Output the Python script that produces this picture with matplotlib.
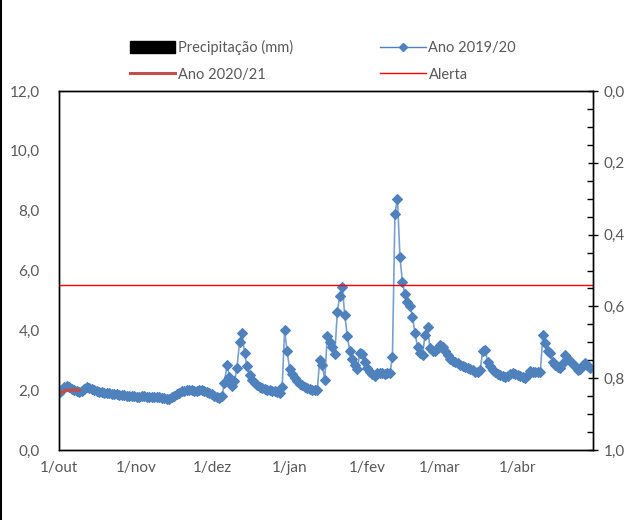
import matplotlib
matplotlib.use("Agg")
import matplotlib.pyplot as plt
import matplotlib.dates as mdates
from matplotlib.ticker import FuncFormatter, MultipleLocator
from matplotlib.lines import Line2D
from matplotlib.patches import Patch
import pandas as pd
import numpy as np

plt.rcParams['font.family'] = ['Lato', 'DejaVu Sans']

# Daily level, Ano 2019/20 (starting 1 Oct 2019)
ano_2019_20 = [
    1.90, 2.00, 2.10, 2.15, 2.10, 2.05, 2.00, 1.98, 1.95, 1.98,
    2.05, 2.10, 2.08, 2.05, 2.00, 1.98, 1.95, 1.93, 1.92, 1.90,
    1.90, 1.88, 1.87, 1.86, 1.85, 1.84, 1.83, 1.82, 1.80, 1.80,
    1.79, 1.78, 1.78, 1.80, 1.79, 1.78, 1.77, 1.78, 1.76, 1.78,
    1.76, 1.74, 1.73, 1.72, 1.72, 1.78, 1.82, 1.88, 1.92, 1.96,
    1.98, 2.00, 2.02, 2.00, 1.97, 1.98, 2.02, 2.00, 1.97, 1.94,
    1.90, 1.86, 1.82, 1.78, 1.74, 1.80, 2.25, 2.85, 2.45, 2.15,
    2.30, 2.75, 3.60, 3.90, 3.25, 2.80, 2.50, 2.35, 2.25, 2.18,
    2.12, 2.08, 2.05, 2.02, 2.00, 1.98, 1.96, 1.94, 1.90, 2.10,
    4.00, 3.30, 2.70, 2.55, 2.40, 2.30, 2.22, 2.17, 2.12, 2.08,
    2.05, 2.02, 2.00, 2.00, 3.00, 2.85, 2.35, 3.80, 3.60, 3.45,
    3.20, 4.60, 5.15, 5.45, 4.50, 3.80, 3.30, 3.05, 2.85, 2.70,
    3.25, 3.20, 2.95, 2.75, 2.62, 2.55, 2.48, 2.58, 2.58, 2.56,
    2.55, 2.56, 2.58, 3.10, 7.90, 8.40, 6.45, 5.60, 5.20, 4.95,
    4.80, 4.45, 3.90, 3.45, 3.25, 3.18, 3.84, 4.10, 3.40, 3.30,
    3.30, 3.40, 3.50, 3.45, 3.30, 3.18, 3.05, 2.98, 2.94, 2.90,
    2.85, 2.82, 2.78, 2.74, 2.70, 2.66, 2.60, 2.62, 2.67, 3.30,
    3.34, 2.95, 2.80, 2.68, 2.60, 2.55, 2.50, 2.46, 2.44, 2.48,
    2.54, 2.58, 2.55, 2.50, 2.46, 2.43, 2.40, 2.50, 2.64, 2.62,
    2.60, 2.60, 2.62, 3.84, 3.57, 3.30, 3.24, 2.95, 2.85, 2.78,
    2.74, 2.90, 3.18, 3.05, 2.97, 2.88, 2.80, 2.67, 2.72, 2.85,
    2.90, 2.80, 2.74,
]
ano_2020_21 = [1.84, 1.92, 1.97, 2.00, 2.00, 2.00, 2.01, 2.00, 2.00]
alerta_value = 5.5
precipitacao = [0.0] * len(ano_2019_20)
month_labels = ['1/out', '1/nov', '1/dez', '1/jan', '1/fev', '1/mar', '1/abr']
left_ticks = [0, 2, 4, 6, 8, 10, 12]
right_ticks = [0.0, 0.2, 0.4, 0.6, 0.8, 1.0]

dates = pd.date_range('2019-10-01', periods=len(ano_2019_20), freq='D')
dates_21 = pd.date_range('2019-10-01', periods=len(ano_2020_21), freq='D')
month_starts = pd.date_range('2019-10-01', periods=len(month_labels), freq='MS')

fig = plt.figure(figsize=(6.33, 5.2), dpi=100)
ax = fig.add_axes([59/633, 1-450/520, (593-59)/633, (450-91)/520])
ax2 = ax.twinx()

gray = '#595959'
blue = '#4F81BD'

bars = ax2.bar(dates, precipitacao, width=0.8, color='black')
ax2.set_ylim(1.0, 0.0)
ax2.set_yticks(right_ticks)
ax2.yaxis.set_minor_locator(MultipleLocator(0.05))
ax2.yaxis.set_major_formatter(FuncFormatter(lambda v, p: f"{v:.1f}".replace('.', ',')))
ax2.tick_params(axis='y', which='major', direction='inout', length=7, width=1,
                color='black', labelcolor=gray, labelsize=11, pad=4)
ax2.tick_params(axis='y', which='minor', direction='in', length=4, width=1, color='black')

ax.set_zorder(ax2.get_zorder() + 1)
ax.patch.set_visible(False)

l1, = ax.plot(dates, ano_2019_20, color='#7BA0CF', lw=1.2, marker='D', markersize=4.8,
              markeredgewidth=0.8, markerfacecolor=blue, markeredgecolor=blue)
l2, = ax.plot(dates_21, ano_2020_21, color='#C0504D', lw=2.4)
l3 = ax.axhline(alerta_value, color='#FF0000', lw=1)

ax.set_ylim(0, 12)
ax.set_yticks(left_ticks)
ax.yaxis.set_major_formatter(FuncFormatter(lambda v, p: f"{v:.1f}".replace('.', ',')))
ax.set_xlim(pd.Timestamp('2019-10-01'), pd.Timestamp('2020-05-01'))
ax.set_xticks(month_starts)
ax.set_xticklabels(month_labels)
ax.tick_params(axis='y', length=0, labelcolor=gray, labelsize=11, pad=14)
ax.tick_params(axis='x', length=0, labelcolor=gray, labelsize=11, pad=8)

for a in (ax, ax2):
    for s in a.spines.values():
        s.set_color('black')
        s.set_linewidth(1)

handles = [Patch(facecolor='black', edgecolor='black'),
           Line2D([], [], color='#C0504D', lw=2.2),
           Line2D([], [], color=blue, lw=1, marker='D', markersize=3.6),
           Line2D([], [], color='#FF0000', lw=1)]
labels = ['Precipitação (mm)', 'Ano 2020/21', 'Ano 2019/20', 'Alerta']
leg = fig.legend(handles, labels, ncol=2, loc='center', bbox_to_anchor=(0.51, 1-61/520),
                 frameon=False, fontsize=10.5, handlelength=3.1, handleheight=0.9,
                 columnspacing=6.0, labelspacing=0.85, handletextpad=0.2)
for t in leg.get_texts():
    t.set_color(gray)

fig.add_artist(Line2D([0.0015, 0.0015], [0, 1], transform=fig.transFigure, color='black', lw=1.5))

fig.savefig('out.png', dpi=100)
